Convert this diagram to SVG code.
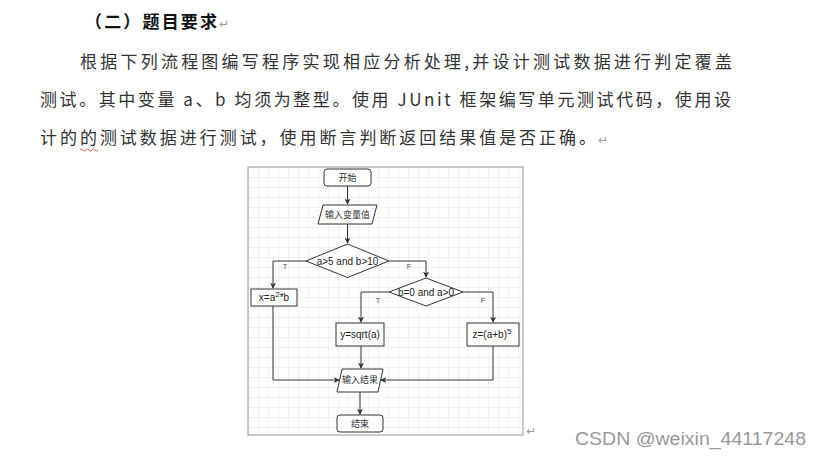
<svg xmlns="http://www.w3.org/2000/svg" width="822" height="457" viewBox="0 0 822 457">
<defs>
<style>
.doc{font-family:"Noto Sans CJK SC","Liberation Serif",serif;font-size:17px;fill:#333}
.mark{font-family:"DejaVu Sans",sans-serif;font-size:12px;fill:#999}
.nd{fill:#fff;stroke:#333;stroke-width:1}
.lbl{font-family:"Liberation Sans","Noto Sans CJK SC",sans-serif;font-size:10px;fill:#222;text-anchor:middle}
.cn{font-family:"Noto Sans CJK SC",sans-serif;font-size:9px;fill:#333;text-anchor:middle}
.tf{font-family:"Liberation Sans",sans-serif;font-size:7.5px;fill:#555;text-anchor:middle}
.edge{fill:none;stroke:#333;stroke-width:1}
</style>
<pattern id="grid" x="248" y="167" width="10" height="10" patternUnits="userSpaceOnUse">
<path d="M10 0H0V10" fill="none" stroke="#e4e4e4" stroke-width="1"/>
</pattern>
<marker id="ar" viewBox="0 0 8 8" refX="7" refY="4" markerWidth="6" markerHeight="6" orient="auto" markerUnits="userSpaceOnUse">
<path d="M0 0L8 4L0 8L2 4Z" fill="#333"/>
</marker>
</defs>
<rect width="822" height="457" fill="#fff"/>
<g id="text">
<text x="85" y="28" style="font-family:'Noto Sans CJK SC',serif;font-size:17px;font-weight:bold;fill:#111" textLength="132" lengthAdjust="spacing">（二）题目要求</text>
<text x="219" y="28" class="mark">↵</text>
<text x="80" y="68" class="doc" textLength="652" lengthAdjust="spacing">根据下列流程图编写程序实现相应分析处理,并设计测试数据进行判定覆盖</text>
<text x="40" y="106" class="doc" textLength="691" lengthAdjust="spacing">测试。其中变量 a、b 均须为整型。使用 JUnit 框架编写单元测试代码，使用设</text>
<text x="40" y="144" class="doc" textLength="556" lengthAdjust="spacing">计的的测试数据进行测试，使用断言判断返回结果值是否正确。</text>
<text x="598" y="144" class="mark">↵</text>
<path d="M80 150q1.5-2 3 0t3 0t3 0t3 0t3 0t3 0" fill="none" stroke="#e03030" stroke-width="0.8"/>
<text x="526" y="435" class="mark">↵</text>
<text x="575" y="445" style="font-family:'Liberation Sans',sans-serif;font-size:18px;fill:#999" textLength="231" lengthAdjust="spacingAndGlyphs">CSDN @weixin_44117248</text>
</g>
<rect x="248" y="167" width="275" height="268" fill="url(#grid)" stroke="#999" stroke-width="1"/>
<g id="connectors">
<path class="edge" d="M347.5 186V204" marker-end="url(#ar)"/>
<path class="edge" d="M347.5 224V243" marker-end="url(#ar)"/>
<path class="edge" d="M306 261H273V288" marker-end="url(#ar)"/>
<path class="edge" d="M389 261H426V277" marker-end="url(#ar)"/>
<path class="edge" d="M389 292H361V322" marker-end="url(#ar)"/>
<path class="edge" d="M463 292H493V322" marker-end="url(#ar)"/>
<path class="edge" d="M361 346V368" marker-end="url(#ar)"/>
<path class="edge" d="M273 306V380H339" marker-end="url(#ar)"/>
<path class="edge" d="M493 346V380H381" marker-end="url(#ar)"/>
<path class="edge" d="M360 392V414" marker-end="url(#ar)"/>
<text x="285" y="269" class="tf">T</text>
<text x="409" y="269" class="tf">F</text>
<text x="378" y="303" class="tf">T</text>
<text x="483" y="303" class="tf">F</text>
</g>
<g id="start">
<rect class="nd" x="324" y="169" width="47" height="17" rx="3"/>
<text x="347.5" y="180.5" class="cn">开始</text>
</g>
<g id="input">
<path class="nd" d="M323 205H377L372 224H318Z"/>
<text x="347.5" y="217.5" class="cn">输入变量值</text>
</g>
<g id="cond1">
<path class="nd" d="M347.5 244L389 261L347.5 277.5L306 261Z"/>
<text x="347.5" y="264.5" class="lbl">a&gt;5 and b&gt;10</text>
</g>
<g id="cond2">
<path class="nd" d="M426 278L463 292L426 306L389 292Z"/>
<text x="426" y="295.5" class="lbl">b=0 and a&gt;0</text>
</g>
<g id="x">
<rect class="nd" x="251" y="289" width="46" height="17"/>
<text x="274" y="301" class="lbl">x=a<tspan dy="-4" font-size="8">2</tspan><tspan dy="4">*b</tspan></text>
</g>
<g id="y">
<rect class="nd" x="336" y="323" width="48" height="23"/>
<text x="360" y="338" class="lbl">y=sqrt(a)</text>
</g>
<g id="z">
<rect class="nd" x="467" y="323" width="52" height="23"/>
<text x="492" y="338" class="lbl">z=(a+b)<tspan dy="-4" font-size="8">5</tspan></text>
</g>
<g id="output">
<path class="nd" d="M342 369H383L378 392H337Z"/>
<text x="360" y="383" class="cn">输入结果</text>
</g>
<g id="end">
<rect class="nd" x="337" y="415" width="46" height="17" rx="3"/>
<text x="360" y="426.5" class="cn">结束</text>
</g>
</svg>
